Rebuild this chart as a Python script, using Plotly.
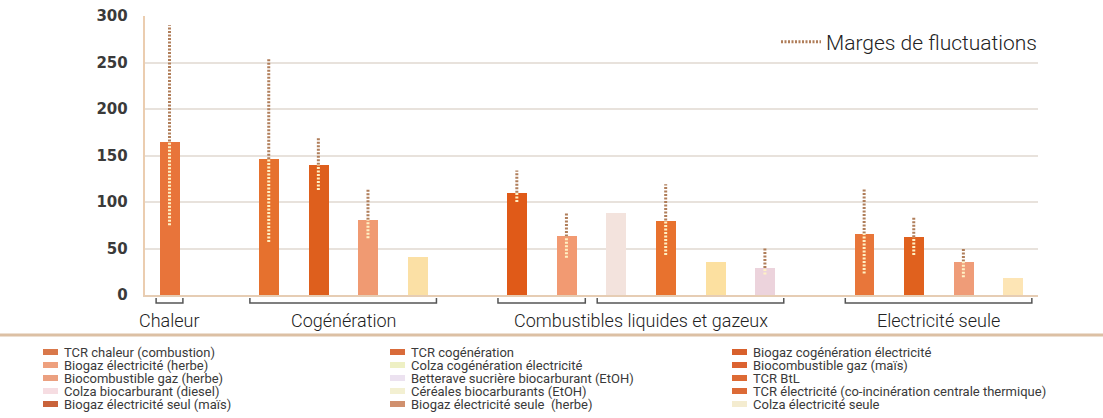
import plotly.graph_objects as go

# ---------------- data ----------------
group_labels = ["Chaleur", "Cogénération", "Combustibles liquides et gazeux", "Electricité seule"]
group_subsizes = [[1], [4], [2, 4], [4]]

bar_names = [
    "TCR chaleur (combustion)",
    "TCR cogénération",
    "Biogaz cogénération électricité",
    "Biogaz électricité (herbe)",
    "Colza cogénération électricité",
    "Biocombustible gaz (maïs)",
    "Biocombustible gaz (herbe)",
    "Betterave sucrière biocarburant (EtOH)",
    "TCR BtL",
    "Céréales biocarburants (EtOH)",
    "Colza biocarburant (diesel)",
    "TCR électricité (co-incinération centrale thermique)",
    "Biogaz électricité seul (maïs)",
    "Biogaz électricité seule  (herbe)",
    "Colza électricité seule",
]
values = [165, 146, 140, 81, 41, 110, 63, 88, 80, 36, 29, 66, 62, 36, 18]
err_low = [75, 57, 113, 61, None, 100, 40, None, 43, None, 22, 23, 43, 19, None]
err_high = [290, 254, 169, 114, None, 134, 88, None, 119, None, 50, 115, 83, 50, None]
bar_colors = ["#e8743a", "#e6712e", "#de5f1d", "#f09a72", "#fbe0a5",
              "#e05a18", "#f29a72", "#f3e3dd", "#e8722e", "#fce0a0",
              "#ecd3dc", "#e8763a", "#e0611e", "#ef9c78", "#fde5b5"]
legend_colors = ["#d9784a", "#d96b3a", "#d8602c", "#eea07e", "#eef0c4",
                 "#dc6230", "#eba080", "#ece2f0", "#dd6a34", "#f3f0d2",
                 "#f6dde2", "#dc6a36", "#c9623a", "#d0906e", "#f4ecd0"]
legend_order = [0, 1, 2, 3, 4, 5, 6, 7, 8, 10, 9, 11, 12, 13, 14]
yticks = [0, 50, 100, 150, 200, 250, 300]
margin_label = "Marges de fluctuations"

# ---------------- layout helpers ----------------
W, H = 1103, 418
def px(x):
    return x / W
def py(y):
    return 1 - y / H

# slot positions: one empty slot between groups
slots = []
group_spans = []
sub_spans = []
s = 0
for subs in group_subsizes:
    g0 = s
    for n in subs:
        sub_spans.append((s, s + n - 1))
        slots.extend(range(s, s + n))
        s += n
    group_spans.append((g0, s - 1))
    s += 1
xmax = slots[-1]

fig = go.Figure()
fig.add_trace(go.Bar(
    x=slots, y=values, width=0.4,
    marker=dict(color=bar_colors, line=dict(width=0)),
    showlegend=False, hoverinfo="skip",
))

# error ranges: part above bar (dark dots) and part inside bar (light dots)
ax, ay, ix, iy = [], [], [], []
for xs, v, lo, hi in zip(slots, values, err_low, err_high):
    if hi is None:
        continue
    ax += [xs, xs, None]
    ay += [v, hi, None]
    if lo is not None and lo < v:
        ix += [xs, xs, None]
        iy += [lo, v, None]
fig.add_trace(go.Scatter(
    x=ax, y=ay, mode="lines", name=margin_label,
    line=dict(color="#b07e5a", width=3, dash="2px,1.5px"),
    showlegend=True, hoverinfo="skip",
))
fig.add_trace(go.Scatter(
    x=ix, y=iy, mode="lines",
    line=dict(color="#fff1c4", width=3, dash="2px,1.5px"),
    showlegend=False, hoverinfo="skip",
))

shapes = []
annotations = []

label_font = dict(family="Roboto", size=18, color="#222222", weight=300)

# brackets under groups
yb_top, yb_bot = py(298), py(303)
for a, b in sub_spans:
    pad = 0.27 if a == b else 0.38
    x0, x1 = a - pad, b + pad
    shapes.append(dict(
        type="path", xref="x", yref="paper",
        path=f"M {x0},{yb_top} L {x0},{yb_bot} L {x1},{yb_bot} L {x1},{yb_top}",
        line=dict(color="#555555", width=1.5),
    ))
for lab, (a, b) in zip(group_labels, group_spans):
    annotations.append(dict(
        text=lab, x=(a + b) / 2, y=py(320), xref="x", yref="paper",
        showarrow=False, xanchor="center", yanchor="middle",
        font=label_font,
    ))

# separator line above legend
shapes.append(dict(type="line", xref="paper", yref="paper",
                   x0=0, x1=1, y0=py(335), y1=py(335),
                   line=dict(color="#dcc0a4", width=3)))

# manual legend, 3 columns, row-major
col_x = [43, 390, 732]
row_y0, row_dy = 352, 13
for k, bi in enumerate(legend_order):
    r, c = divmod(k, 3)
    yc = row_y0 + r * row_dy
    x0 = col_x[c]
    shapes.append(dict(type="rect", xref="paper", yref="paper",
                       x0=px(x0), x1=px(x0 + 15), y0=py(yc - 3), y1=py(yc + 3),
                       fillcolor=legend_colors[bi], line=dict(width=0)))
    annotations.append(dict(
        text=bar_names[bi], x=px(x0 + 19), y=py(yc), xref="paper", yref="paper",
        showarrow=False, xanchor="left", yanchor="middle",
        font=dict(family="Roboto", size=13, color="#3a3a3a", weight=400),
    ))

fig.update_layout(
    width=W, height=H,
    margin=dict(l=0, r=0, t=0, b=0, autoexpand=False),
    paper_bgcolor="white", plot_bgcolor="white",
    bargap=0,
    xaxis=dict(
        domain=[px(144.7), px(1037.8)], range=[-0.5, xmax + 0.5],
        showticklabels=False, showgrid=False, zeroline=False, automargin=False,
        showline=True, linecolor="#e6cdb4", linewidth=2, ticks="",
    ),
    yaxis=dict(
        domain=[py(295), py(16)], range=[0, 300], automargin=False,
        tickvals=yticks, ticktext=[str(t) for t in yticks],
        showgrid=True, gridcolor="#e8e2dc", gridwidth=2,
        zeroline=False, showline=True, linecolor="#ebcdb0", linewidth=2,
        ticks="", ticklabelstandoff=12,
        tickfont=dict(family="DejaVu Sans", size=15, color="#3a3a3a", weight="bold"),
    ),
    legend=dict(
        x=px(776), y=py(42), xanchor="left", yanchor="middle",
        bgcolor="rgba(0,0,0,0)", borderwidth=0, itemwidth=40,
        font=dict(family="Roboto", size=21, color="#222222", weight=300),
    ),
    shapes=shapes,
    annotations=annotations,
    showlegend=True,
)

fig.write_html("out.html", config={"displayModeBar": False},
               post_script="document.body.style.margin='0';")
